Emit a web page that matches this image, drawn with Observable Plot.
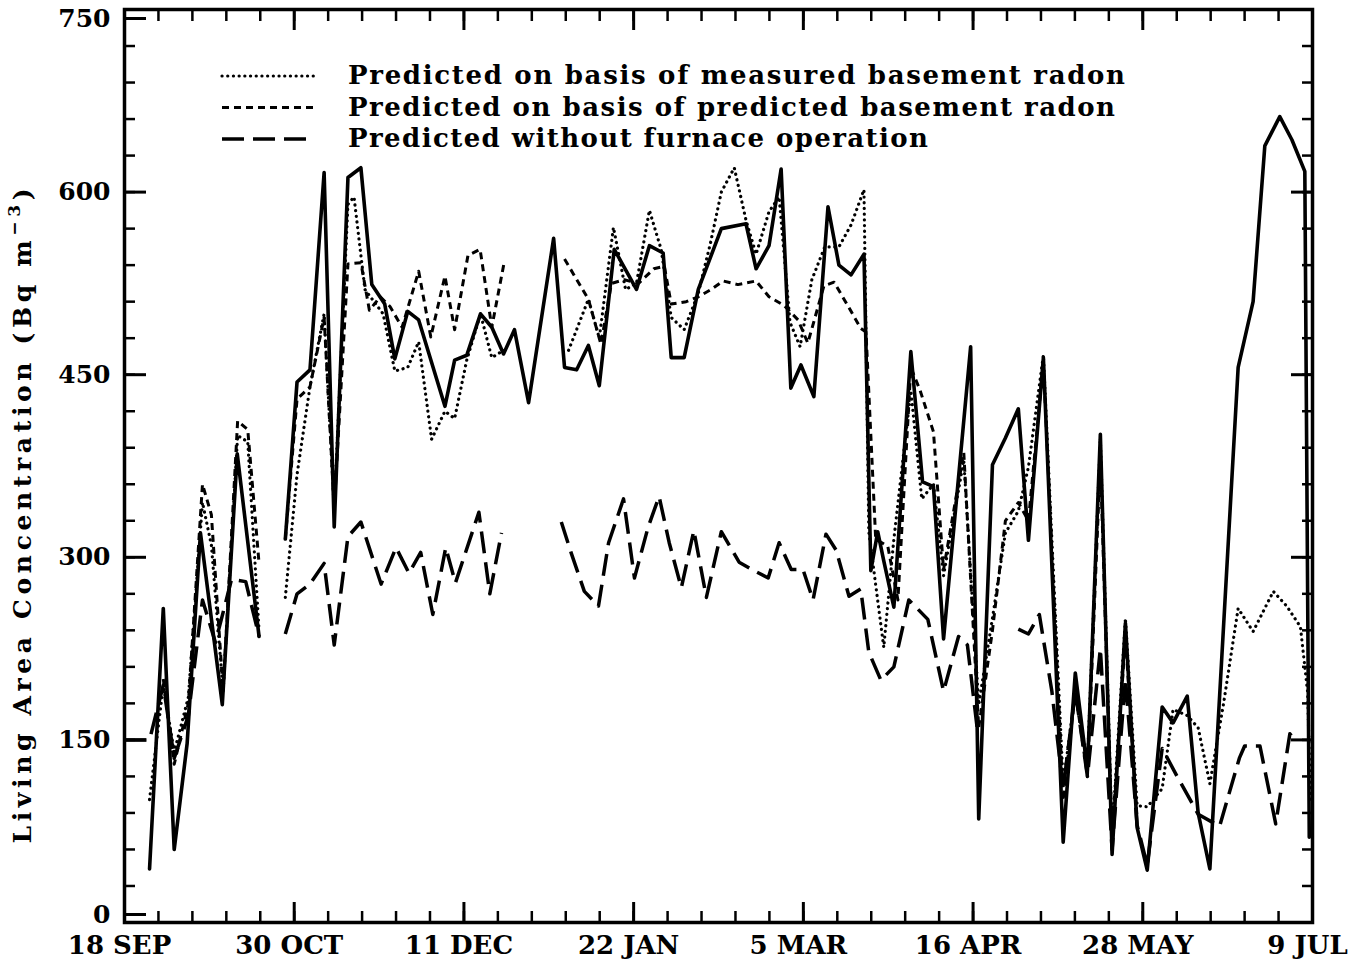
<!DOCTYPE html>
<html><head><meta charset="utf-8">
<script src="https://cdn.jsdelivr.net/npm/d3@7"></script>
<script src="https://cdn.jsdelivr.net/npm/@observablehq/plot@0.6"></script>
<style>
html,body{margin:0;padding:0;background:#fff;overflow:hidden;}
#wrap{position:relative;width:1369px;height:961px;}
#overlay{position:absolute;left:0;top:0;pointer-events:none;}
</style></head><body>
<div id="wrap"></div>
<script>
// ---- axis ticks and labels ----
const tickDays = [0, 42, 84, 126, 168, 210, 252, 294];
const tickLabels = ["18 SEP", "30 OCT", "11 DEC", "22 JAN", "5 MAR", "16 APR", "28 MAY", "9 JUL"];
const minorDays = d3.range(0, 294.01, 8.4);
const yMajor = [0, 150, 300, 450, 600, 750];
const yMinor = d3.range(0, 751, 30);
const yTitleMain = "Living Area Concentration (Bq m";
const yTitleSup = "\u22123";
const yTitleEnd = ")";

// ---- series: [day since 18 SEP, Bq m^-3]; null = gap ----
const measured = [
[6.2,44],[9.6,258],[12.3,60],[15.5,147],[18.8,320],[24.2,179],[27.9,385],[33.3,235],[36,null],
[39.8,315],[42.7,444],[45.9,454],[49.4,616],[51.9,325],[55.3,612],[58.5,620],[61.2,524],[64.4,508],
[66.9,463],[70.1,502],[72.8,495],[79.3,424],[81.7,462],[84.7,466],[88.1,500],[90.9,489],[93.8,467],
[96.5,487],[100,427],[106.2,562],[108.9,456],[111.9,454],[114.8,474],[117.5,441],[121.2,553],[126.7,520],
[129.9,556],[133.3,550],[135.3,464],[138.5,464],[142,520],[147.7,570],[153.8,574],[156.3,537],[159.5,556],
[162.5,619],[164.9,439],[167.4,458],[170.6,432],[174.1,588],[176.8,540],[179.8,532],[183,549],[184.7,289],
[186.4,321],[187.9,297],[190.4,259],[194.6,469],[197.5,362],[200.2,358],[202.7,233],[209.4,473],[211.4,85],
[214.8,376],[218,398],[221.2,422],[223.7,314],[227.4,464],[232.3,66],[235.3,205],[238.3,125],[241.5,401],
[244.4,56],[247.7,246],[250.6,78],[253.1,43],[256.8,177],[259.5,164],[263,186],[265.7,90],[268.6,44],
[275.6,456],[279.3,510],[282.2,638],[285.9,662],[288.9,643],[292.1,617],[293.2,70]
];
const measBasement = [
[6.2,101],[9.6,195],[12.3,140],[15.8,185],[19.3,345],[21.5,310],[24.4,190],[28,400],[30.5,395],[33.3,240],[36,null],
[39.8,267],[42.7,368],[45.9,440],[49.4,500],[51.9,340],[55.3,590],[56.8,596],[59.5,520],[64,500],[66.9,453],
[70.1,456],[72.8,477],[76,397],[79.3,420],[81.7,414],[84.7,462],[88.1,500],[90.9,464],[93.8,470],[100,null],
[109.9,470],[114.8,512],[117.5,480],[121,571],[124,520],[126.7,525],[129.9,585],[132.8,553],[135.3,497],
[138.5,487],[142,517],[145,558],[147.7,600],[150.9,620],[153.8,577],[156.3,549],[159.5,584],[162,596],
[164.7,493],[167.2,473],[170.1,528],[173.3,555],[176.8,555],[179.8,573],[183,602],[184.2,321],[187.9,226],
[190.4,315],[194.6,437],[197.3,348],[200.2,360],[202.7,285],[207.7,380],[211.4,179],[214.8,250],[218,320],
[221.2,338],[223.7,374],[227.4,466],[232.3,114],[235.3,189],[238.3,130],[241.5,398],[244.4,72],[247.7,250],
[250.6,96],[253.1,95],[256.8,110],[259.5,175],[263,170],[265.7,160],[268.6,114],[272,180],[275.6,258],
[279.3,239],[284.3,272],[287.6,260],[291,243],[292.8,189],[293.5,100]
];
const predBasement = [
[9.6,200],[12.3,130],[15.8,180],[19.3,360],[21.5,335],[24.4,190],[28,412],[30.5,405],[33.3,295],[36,null],
[39.8,315],[42.7,430],[45.9,440],[49.4,497],[51.9,340],[55.3,541],[58.5,542],[60.6,503],[63.3,514],[65.7,506],
[68.7,489],[72.8,535],[75.8,481],[79.3,531],[81.7,487],[85,548],[88,553],[90.9,489],[94,543],[100,null],
[108.9,545],[114.8,512],[117.9,475],[120.5,525],[123.7,528],[127.2,525],[131,537],[133.6,539],[135.3,508],
[139,510],[142,514],[145.2,520],[148.1,527],[151.8,524],[156.3,527],[159.5,514],[163.2,507],[166.7,495],
[169.1,476],[173.1,523],[175.6,526],[179.3,505],[182.2,488],[183.5,485],[185.9,315],[188.9,309],[191.4,265],
[194.6,456],[196.9,437],[200.2,403],[202.7,290],[207.7,386],[211.4,160],[214.8,240],[218,330],[221.2,345],
[223.7,330],[227.4,460],[232.3,100],[235.3,190],[238.3,120],[241.5,380],[244.4,70],[247.7,235],[250.6,85]
];
const noFurnace = [
[0,150],[6.2,150],[9.6,195],[12.3,135],[15.8,170],[19.3,265],[22.5,230],[26.5,282],[30,280],[33.3,235],[36,null],
[39.8,237],[42.7,270],[45.9,278],[49.4,295],[51.9,228],[55.3,317],[58.5,329],[63.5,278],[67.2,308],[70.4,287],
[73.3,304],[76.3,253],[79.5,308],[81.9,279],[87.7,337],[90.4,270],[93.3,320],[100,null],
[108.1,329],[110.6,303],[113.8,272],[117.3,260],[119.8,312],[123.5,348],[126.2,283],[129.6,325],[132.3,350],
[134.8,312],[137.8,275],[140.9,322],[144,267],[147.7,321],[152.1,296],[155.8,289],[159.3,283],[162,312],
[165,290],[167.9,290],[170.4,265],[173.6,319],[176.1,306],[179.3,268],[182.2,274],[184.2,222],[187.2,199],
[190.4,210],[194.1,265],[198.8,249],[202.7,190],[206.4,235],[208.6,228],[211,160],[216,null],
[221.2,241],[223.7,237],[226.4,253],[229.5,190],[232.3,110],[235.3,190],[238.3,120],[241.5,225],[244.4,60],
[247.7,200],[250.6,80],[253.1,47],[256.8,143],[260.5,120],[265.7,89],[271,79],[275.9,135],[277.2,145],
[281,145],[284.9,81],[288.4,155],[290,148]
];
const legendNames = [
  "Predicted on basis of measured basement radon",
  "Predicted on basis of predicted basement radon",
  "Predicted without furnace operation"
];

const rows = arr => arr.map(([day, value]) => ({day, value}));
const FONT = "DejaVu Serif";
const noLabel = () => "";
const labelOf = d => tickLabels[tickDays.indexOf(d)];

const dotted = {strokeWidth: 3.2, strokeDasharray: "0.1,5.6", strokeLinecap: "round"};
const shortDash = {strokeWidth: 3, strokeDasharray: "7,5", strokeLinecap: "butt"};
const longDash = {strokeWidth: 3.5, strokeDasharray: "22,9", strokeLinecap: "butt"};
const bold = {fontWeight: "bold", fontFamily: FONT};
const yLab = (vals, dy) => Plot.axisY({anchor: "left", ticks: vals, tickSize: -22, tickPadding: 36,
  tickFormat: d => String(d), strokeWidth: 3, fontSize: 25, dy, label: null, ...bold});

const chart = Plot.plot({
  width: 1369, height: 961,
  marginLeft: 124, marginRight: 57, marginTop: 9, marginBottom: 39,
  x: {domain: [0, 294], label: null},
  y: {domain: [0, 750], label: null},
  style: {fontFamily: FONT, background: "white", color: "black"},
  marks: [
    Plot.line(rows(noFurnace), {x: "day", y: "value", stroke: "black", strokeLinejoin: "round", ...longDash}),
    Plot.line(rows(predBasement), {x: "day", y: "value", stroke: "black", strokeLinejoin: "round", ...shortDash}),
    Plot.line(rows(measBasement), {x: "day", y: "value", stroke: "black", strokeLinejoin: "round", ...dotted}),
    Plot.line(rows(measured), {x: "day", y: "value", stroke: "black", strokeWidth: 3.6, strokeLinejoin: "round"}),
    // bottom
    Plot.axisX({anchor: "bottom", ticks: minorDays, tickSize: -11, tickFormat: noLabel, strokeWidth: 2.5, label: null}),
    Plot.axisX({anchor: "bottom", ticks: tickDays, tickSize: -20, tickFormat: noLabel, strokeWidth: 3, label: null}),
    Plot.axisX({anchor: "bottom", ticks: tickDays, tickSize: 0, tickPadding: 13, tickFormat: labelOf,
      dx: -5, fontSize: 26, label: null, ...bold}),
    // top
    Plot.axisX({anchor: "top", ticks: minorDays, tickSize: -11, tickFormat: noLabel, strokeWidth: 2.5, label: null}),
    Plot.axisX({anchor: "top", ticks: tickDays, tickSize: -20, tickFormat: noLabel, strokeWidth: 3, label: null}),
    // left
    Plot.axisY({anchor: "left", ticks: yMinor, tickSize: -11, tickFormat: noLabel, strokeWidth: 2.5, label: null}),
    yLab(yMajor.filter(v => v > 0 && v < 750), 0),
    yLab([750], 9),
    yLab([0], -8),
    // right
    Plot.axisY({anchor: "right", ticks: yMinor, tickSize: -11, tickFormat: noLabel, strokeWidth: 2.5, label: null}),
    Plot.axisY({anchor: "right", ticks: yMajor, tickSize: -22, tickFormat: noLabel, strokeWidth: 3, label: null}),
    Plot.frame({strokeWidth: 3.5})
  ]
});
document.getElementById("wrap").appendChild(chart);

// ---- overlay: legend and y title ----
const ov = d3.select("#wrap").append("svg").attr("id", "overlay")
  .attr("width", 1369).attr("height", 961)
  .style("font-family", FONT).style("font-weight", "bold");
const legendStyles = [dotted, shortDash, longDash];
const legendWidths = [777, 767, 580];
legendNames.forEach((name, i) => {
  const y = 76 + i * 31.5;
  const s = legendStyles[i];
  ov.append("line").attr("x1", 222).attr("x2", 315).attr("y1", y).attr("y2", y)
    .attr("stroke", "black").attr("stroke-width", s.strokeWidth)
    .attr("stroke-dasharray", s.strokeDasharray).attr("stroke-linecap", s.strokeLinecap);
  ov.append("text").attr("x", 348).attr("y", y + 8).attr("font-size", 26)
    .attr("textLength", legendWidths[i]).attr("lengthAdjust", "spacing").text(name);
});
const yt = ov.append("text").attr("transform", "translate(31,516) rotate(-90)")
  .attr("text-anchor", "middle").attr("font-size", 25)
  .attr("textLength", 655).attr("lengthAdjust", "spacing");
yt.append("tspan").text(yTitleMain);
yt.append("tspan").attr("dy", -11).attr("font-size", 17).text(yTitleSup);
yt.append("tspan").attr("dy", 11).text(yTitleEnd);
</script>
</body></html>
